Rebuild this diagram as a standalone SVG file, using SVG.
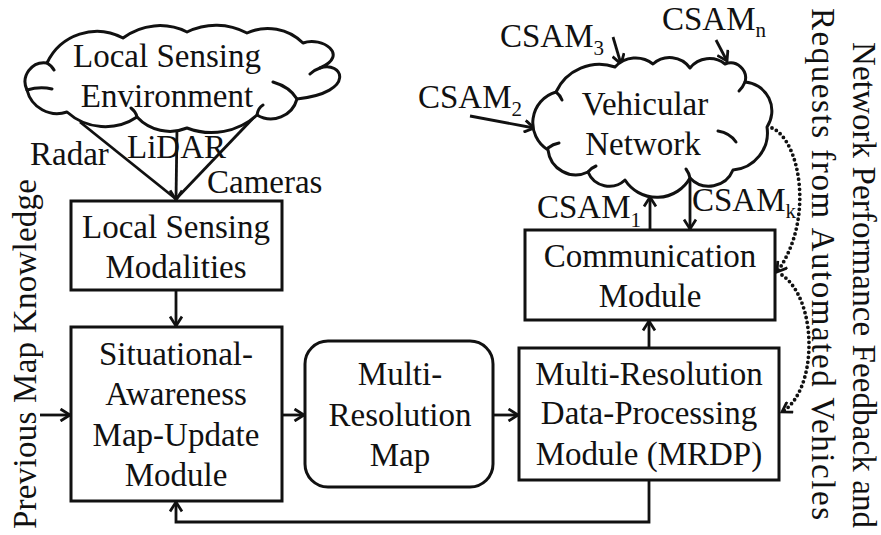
<svg xmlns="http://www.w3.org/2000/svg" width="881" height="535" viewBox="0 0 881 535">
<style>
text{font-family:"Liberation Serif","Times New Roman",serif;font-size:33px;fill:#111;}
.c{text-anchor:middle;}
.sub{font-size:21px;}
.box{fill:#fff;stroke:#111;stroke-width:3;}
.cloud{fill:#fff;stroke:#111;stroke-width:3;stroke-linejoin:round;}
.curl{fill:none;stroke:#111;stroke-width:3;stroke-linecap:round;}
.ln{fill:none;stroke:#111;stroke-width:2.8;}
.dot{fill:none;stroke:#111;stroke-width:3.8;stroke-linecap:round;stroke-dasharray:0 5;}
</style>
<defs>
<marker id="ah" markerUnits="userSpaceOnUse" markerWidth="14" markerHeight="14" refX="11" refY="7" orient="auto">
<path d="M1.5,1 L11,7 L1.5,13" fill="none" stroke="#111" stroke-width="2.8" stroke-dasharray="none" stroke-linejoin="miter"/>
</marker>
</defs>
<rect width="881" height="535" fill="#fff"/>

<g id="connectors">
<line class="ln" x1="80" y1="122" x2="176" y2="199"/>
<line class="ln" x1="258" y1="113" x2="176" y2="199"/>
<line class="ln" x1="177" y1="128" x2="176" y2="200" marker-end="url(#ah)"/>
<line class="ln" x1="176" y1="290" x2="176" y2="326" marker-end="url(#ah)"/>
<line class="ln" x1="40" y1="415" x2="70" y2="415" marker-end="url(#ah)"/>
<line class="ln" x1="282" y1="415" x2="304" y2="415" marker-end="url(#ah)"/>
<line class="ln" x1="493" y1="415" x2="518" y2="415" marker-end="url(#ah)"/>
<path class="ln" d="M649,480 V522 H176 V502" marker-end="url(#ah)"/>
<line class="ln" x1="649" y1="348" x2="649" y2="321" marker-end="url(#ah)"/>
<line class="ln" x1="650" y1="230" x2="650" y2="197" marker-end="url(#ah)"/>
<line class="ln" x1="690" y1="178" x2="690" y2="229" marker-end="url(#ah)"/>
<line class="ln" x1="613" y1="37" x2="621" y2="64" marker-end="url(#ah)"/>
<line class="ln" x1="716" y1="40" x2="727" y2="61" marker-end="url(#ah)"/>
<line class="ln" x1="470" y1="116" x2="534" y2="128" marker-end="url(#ah)"/>
<path class="dot" d="M772,128 C800,140 815,220 777,272" marker-end="url(#ah)"/>
<path class="dot" d="M782,275 C818,300 818,390 782,412" marker-end="url(#ah)"/>
</g>

<g id="local-env">
<path class="cloud" d="M47,63 A55,55 0 0 1 123,38 A61,61 0 0 1 187,32 A65,65 0 0 1 247,33 A50,50 0 0 1 303,43 C322,36 350,55 320,68 C342,60 358,92 297,99 A27,27 0 0 1 257,115 A68,68 0 0 1 187,128 A45,45 0 0 1 137,117 A57,57 0 0 1 67,112 A31,31 0 0 1 27,90 A19,19 0 0 1 47,63 Z"/>
<path class="curl" d="M27,90 Q40,86 52,89 M320,68 Q314,70 310,74 M297,99 Q290,87 273,82 M137,117 Q136,112 131,108 M257,115 Q258,108 263,105 M47,63 Q52,66 54,70"/>
<text class="c" x="167" y="67">Local Sensing</text>
<text class="c" x="167" y="107">Environment</text>
</g>

<g id="sensor-labels">
<text x="30" y="165">Radar</text>
<text x="127" y="158">LiDAR</text>
<text x="207" y="193">Cameras</text>
</g>

<g id="local-modalities">
<rect class="box" x="71" y="201" width="211" height="89"/>
<text class="c" x="176" y="238">Local Sensing</text>
<text class="c" x="176" y="278">Modalities</text>
</g>

<g id="sam-update">
<rect class="box" x="71" y="327" width="211" height="174"/>
<text class="c" x="176" y="365">Situational-</text>
<text class="c" x="176" y="405">Awareness</text>
<text class="c" x="176" y="446">Map-Update</text>
<text class="c" x="176" y="486">Module</text>
</g>

<g id="mr-map">
<rect class="box" x="305" y="341" width="188" height="146" rx="23" ry="23"/>
<text class="c" x="400" y="385">Multi-</text>
<text class="c" x="400" y="426">Resolution</text>
<text class="c" x="400" y="466">Map</text>
</g>

<g id="mrdp">
<rect class="box" x="519" y="348" width="260" height="132"/>
<text class="c" x="649" y="385">Multi-Resolution</text>
<text class="c" x="649" y="424">Data-Processing</text>
<text class="c" x="649" y="465">Module (MRDP)</text>
</g>

<g id="comm">
<rect class="box" x="525" y="230" width="250" height="90"/>
<text class="c" x="650" y="267">Communication</text>
<text class="c" x="650" y="307">Module</text>
</g>

<g id="vehicular-network">
<path class="cloud" d="M548,150 A32,32 0 0 1 556,92 A48,48 0 0 1 615,67 A28,28 0 0 1 653,64 A25,25 0 0 1 690,68 A25,25 0 0 1 725,64 A15,15 0 0 1 745,82 A29,29 0 0 1 767,127 A37.5,37.5 0 0 1 733,170 A26,26 0 0 1 690,178 A38,38 0 0 1 625,180 A23,23 0 0 1 588,172 A28,28 0 0 1 548,150 Z"/>
<path class="curl" d="M548,148 Q553,144 559,143 M745,82 Q743,87 739,91 M718,131 Q730,133 736,142 M690,178 Q689,173 686,169 M588,172 Q591,168 596,166 M556,92 Q560,95 562,100"/>
<text class="c" x="645" y="115">Vehicular</text>
<text class="c" x="643" y="155">Network</text>
</g>

<g id="csam-labels">
<text x="500" y="47">CSAM<tspan class="sub" dy="8">3</tspan></text>
<text x="662" y="30">CSAM<tspan class="sub" dy="7">n</tspan></text>
<text x="418" y="108">CSAM<tspan class="sub" dy="8">2</tspan></text>
<text x="537" y="218">CSAM<tspan class="sub" dy="9">1</tspan></text>
<text x="692" y="211">CSAM<tspan class="sub" dy="7">k</tspan></text>
</g>

<g id="side-labels">
<text class="c" transform="translate(36,354) rotate(-90)" textLength="350" lengthAdjust="spacing">Previous Map Knowledge</text>
<text transform="translate(853,42) rotate(90)" textLength="486" lengthAdjust="spacing">Network Performance Feedback and</text>
<text transform="translate(812,8) rotate(90)" textLength="512" lengthAdjust="spacing">Requests from Automated Vehicles</text>
</g>
</svg>
